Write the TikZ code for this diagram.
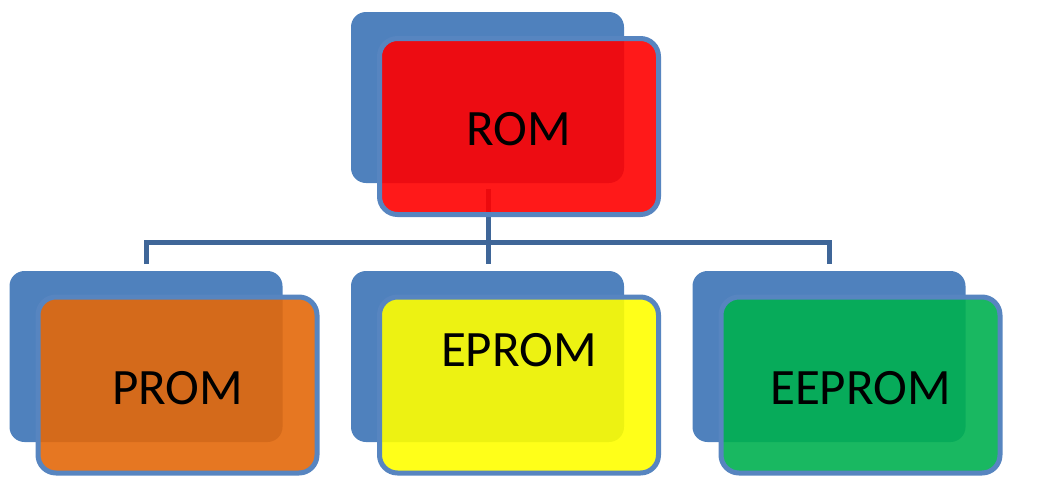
\documentclass[tikz,border=0pt]{standalone}
\usepackage{fontspec}
\setmainfont{Carlito}
\usetikzlibrary{calc}
\definecolor{backblue}{HTML}{4F81BD}
\definecolor{edgeblue}{HTML}{5785C0}
\definecolor{linkblue}{HTML}{3F6698}
\definecolor{romred}{HTML}{FF0000}
\definecolor{promorange}{HTML}{E3680A}
\definecolor{epromyellow}{HTML}{FFFF00}
\definecolor{eepromgreen}{HTML}{00B050}
\tikzset{
  backbox/.style={fill=backblue, draw=none, rounded corners=15pt, inner sep=0pt,
    minimum width=273pt, minimum height=171pt},
  frontbox/.style={draw=edgeblue, line width=5pt, rounded corners=18pt, inner sep=0pt,
    fill opacity=0.9, minimum width=279pt, minimum height=176pt},
  link/.style={draw=linkblue, line width=5pt, line join=miter},
  caption/.style={font=\fontsize{51}{60}\selectfont, text=black, inner sep=0pt}
}
\begin{document}
\begin{tikzpicture}[x=1pt,y=-1pt]
\useasboundingbox (0,0) rectangle (1061,477);

% rear panels
\node[backbox] (romb)    at (487.5,97.5)  {};
\node[backbox] (promb)   at (146,356.5)   {};
\node[backbox] (epromb)  at (487.5,356.5) {};
\node[backbox] (eepromb) at (829,356.5)   {};

% tree connectors
\coordinate (romtap)    at (488,189);
\coordinate (hub)       at (488,242);
\coordinate (promtap)   at (146,264);
\coordinate (epromtap)  at (488,264);
\coordinate (eepromtap) at (829,264);
\draw[link] (romtap) -- (hub);
\draw[link] (promtap) |- (hub) -| (eepromtap);
\draw[link] (hub) -- (epromtap);

% front panels
\node[frontbox, fill=romred]      (romf)    at (519,126.5) {};
\node[frontbox, fill=promorange]  (promf)   at (177.5,385) {};
\node[frontbox, fill=epromyellow] (epromf)  at (519,385)   {};
\node[frontbox, fill=eepromgreen] (eepromf) at (860.5,385) {};

% captions
\node[caption] (romt)    at ($(romf.center)+(0,3)$)     {ROM};
\node[caption] (promt)   at ($(promf.center)+(0,3)$)    {PROM};
\node[caption] (epromt)  at ($(epromf.center)+(0,-35)$) {EPROM};
\node[caption] (eepromt) at ($(eepromf.center)+(0,3)$)  {EEPROM};
\end{tikzpicture}
\end{document}
